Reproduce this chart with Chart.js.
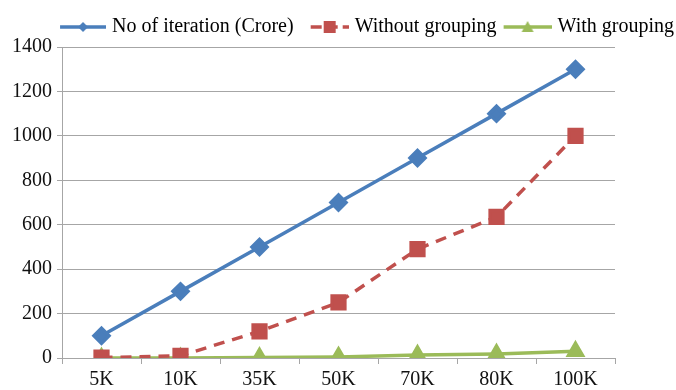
<!DOCTYPE html>
<html>
<head>
<meta charset="utf-8">
<script src="https://cdn.jsdelivr.net/npm/chart.js@4/dist/chart.umd.min.js"></script>
<style>
  html, body { margin: 0; padding: 0; background: #ffffff; }
  #wrap { width: 676px; height: 390px; }
</style>
</head>
<body>
<div id="wrap"><canvas id="c" width="676" height="390"></canvas></div>
<script>
// Dataset sizes on the x axis
const categories = ['5K', '10K', '35K', '50K', '70K', '80K', '100K'];
// Series values
const iterations = [100, 300, 500, 700, 900, 1100, 1300];
const withoutGrouping = [2, 10, 120, 250, 490, 635, 1000];
const withGrouping = [0, 0, 2, 5, 13, 18, 30];
// Y axis tick labels
const yTicks = [0, 200, 400, 600, 800, 1000, 1200, 1400];

const BLUE = '#4a7ebb';
const RED = '#c0504d';
const GREEN = '#9bbb59';
const FONT = '"Liberation Serif", "Times New Roman", serif';

// Legend key geometry: the key box is SWATCH_BOX wide; the image is a bit
// wider and holds the line+marker sample in its right-hand part.
const SWATCH_BOX = 49;
const SWATCH_IMG_W = SWATCH_BOX + 8;

function swatch(color, marker, dashed, length) {
  const w = SWATCH_IMG_W, h = 20;
  const cv = document.createElement('canvas');
  cv.width = w; cv.height = h;
  const g = cv.getContext('2d');
  const x0 = w - length, x1 = w;
  const cx = (x0 + x1) / 2, cy = h / 2;
  g.strokeStyle = color;
  g.lineWidth = 3.5;
  if (dashed) g.setLineDash([11, 5]);
  g.beginPath();
  g.moveTo(x0, cy);
  g.lineTo(x1, cy);
  g.stroke();
  g.setLineDash([]);
  g.fillStyle = color;
  g.beginPath();
  if (marker === 'diamond') {
    g.moveTo(cx, cy - 5); g.lineTo(cx + 5, cy); g.lineTo(cx, cy + 5); g.lineTo(cx - 5, cy);
  } else if (marker === 'square') {
    g.rect(cx - 6, cy - 6, 12, 12);
  } else {
    g.moveTo(cx, cy - 6); g.lineTo(cx + 6, cy + 5); g.lineTo(cx - 6, cy + 5);
  }
  g.closePath();
  g.fill();
  return cv;
}

function draw() {
  const swatches = [
    swatch(BLUE, 'diamond', false, 46),
    swatch(RED, 'square', true, 38),
    swatch(GREEN, 'triangle', false, 48)
  ];

  new Chart(document.getElementById('c'), {
    type: 'line',
    data: {
      labels: categories,
      datasets: [
        {
          label: 'No of iteration (Crore)',
          data: iterations,
          borderColor: BLUE,
          backgroundColor: BLUE,
          borderWidth: 3.5,
          pointStyle: 'rectRot',
          pointRadius: 7.5,
          pointHoverRadius: 7.5,
          tension: 0
        },
        {
          label: 'Without grouping',
          data: withoutGrouping,
          borderColor: RED,
          backgroundColor: RED,
          borderWidth: 3.5,
          borderDash: [11, 8],
          pointStyle: 'rect',
          pointRadius: 9,
          pointHoverRadius: 9,
          tension: 0
        },
        {
          label: 'With grouping',
          data: withGrouping,
          borderColor: GREEN,
          backgroundColor: GREEN,
          borderWidth: 3.5,
          pointStyle: 'triangle',
          pointRadius: 8,
          pointHoverRadius: 8,
          tension: 0
        }
      ]
    },
    options: {
      responsive: false,
      animation: false,
      layout: { padding: { left: 0, right: 0, top: 15, bottom: 0 } },
      plugins: {
        tooltip: { enabled: false },
        legend: {
          display: true,
          position: 'top',
          align: 'end',
          labels: {
            usePointStyle: true,
            pointStyleWidth: SWATCH_BOX,
            padding: 2,
            color: '#111',
            font: { family: FONT, size: 20 },
            generateLabels(ch) {
              return ch.data.datasets.map((ds, i) => ({
                text: ds.label,
                pointStyle: swatches[i],
                fillStyle: ds.borderColor,
                strokeStyle: ds.borderColor,
                lineWidth: 0,
                hidden: false,
                datasetIndex: i
              }));
            }
          }
        }
      },
      scales: {
        x: {
          type: 'category',
          offset: true,
          afterFit(scale) { scale.height = 32; },
          grid: {
            offset: true,
            drawOnChartArea: false,
            drawTicks: true,
            tickLength: 6,
            color: '#a6a6a6'
          },
          border: { display: true, color: '#a6a6a6', width: 1 },
          ticks: {
            padding: 4,
            color: '#111',
            font: { family: FONT, size: 20 },
            maxRotation: 0,
            autoSkip: false
          }
        },
        y: {
          min: 0,
          max: 1400,
          afterBuildTicks(scale) {
            scale.ticks = yTicks.map(v => ({ value: v }));
          },
          afterFit(scale) { scale.width = 62; },
          grid: {
            color: '#a6a6a6',
            lineWidth: 1,
            drawTicks: true,
            tickLength: 5
          },
          border: { display: true, color: '#a6a6a6', width: 1 },
          ticks: {
            padding: 5,
            color: '#111',
            font: { family: FONT, size: 20 },
            callback: (v) => String(v)
          }
        },
        spacer: {
          position: 'right',
          display: true,
          grid: { display: false, drawTicks: false },
          border: { display: false },
          ticks: { display: false },
          afterFit(scale) { scale.width = 61; }
        }
      }
    }
  });
}

// Make sure the serif face is ready before the canvas text is measured
if (document.fonts && document.fonts.load) {
  document.fonts.load('20px "Liberation Serif"').then(draw, draw);
} else {
  draw();
}
</script>
</body>
</html>
